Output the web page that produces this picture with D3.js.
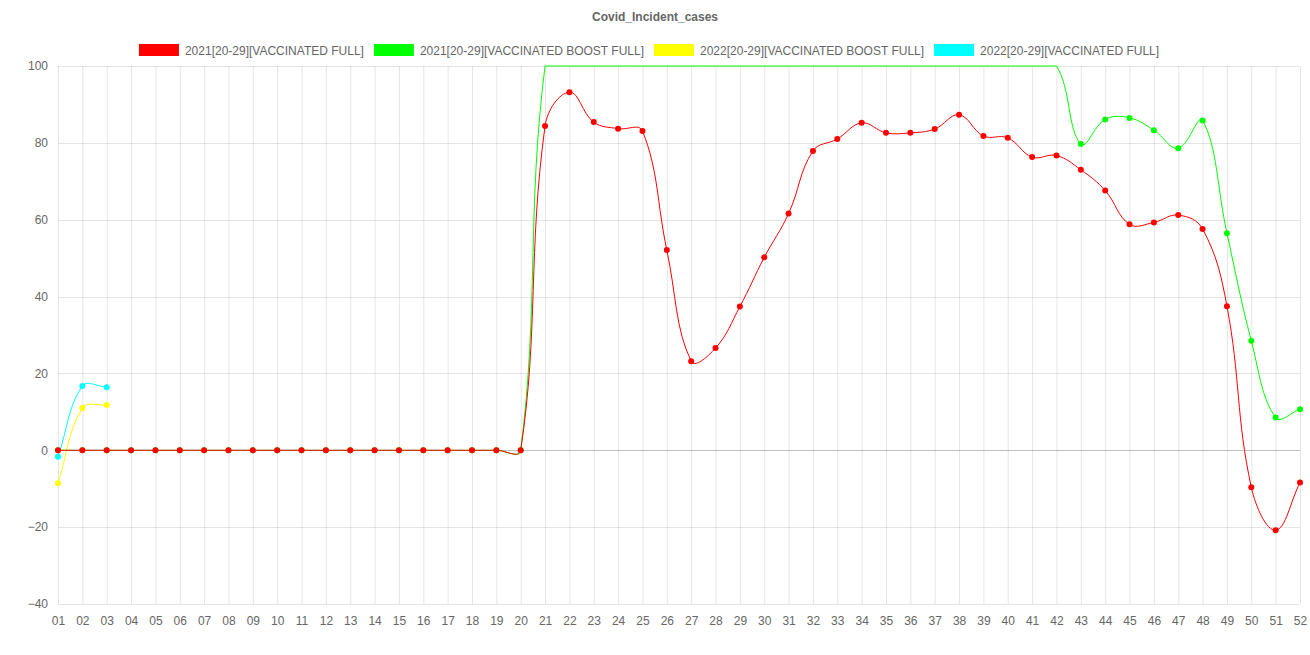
<!DOCTYPE html>
<html>
<head>
<meta charset="utf-8">
<script src="https://cdn.jsdelivr.net/npm/d3@7"></script>
<style>
  html, body { margin: 0; padding: 0; background: #fff; }
  svg { display: block; font-family: "Liberation Sans", Arial, Helvetica, sans-serif; }
</style>
</head>
<body>
<svg id="chart" width="1310" height="655"></svg>
<script>
// ---------------- DATA ----------------
const title = "Covid_Incident_cases";
const weeks = ["01","02","03","04","05","06","07","08","09","10","11","12","13","14","15","16","17","18","19","20",
  "21","22","23","24","25","26","27","28","29","30","31","32","33","34","35","36","37","38","39","40",
  "41","42","43","44","45","46","47","48","49","50","51","52"];
const yTicks = [-40, -20, 0, 20, 40, 60, 80, 100];

const seriesNames = [
  "2021[20-29][VACCINATED FULL]",
  "2021[20-29][VACCINATED BOOST FULL]",
  "2022[20-29][VACCINATED BOOST FULL]",
  "2022[20-29][VACCINATED FULL]"
];
const seriesColors = ["#ff0000", "#00ff00", "#ffff00", "#00ffff"];

const full2021 = [0,0,0,0,0,0,0,0,0,0,0,0,0,0,0,0,0,0,0,0,
  84.4,93.2,85.4,83.7,83.1,52.1,23.2,26.6,37.4,50.2,61.6,77.9,81.0,85.2,82.6,82.6,83.6,87.3,81.8,81.3,
  76.3,76.7,73.0,67.6,58.8,59.3,61.2,57.6,37.5,-9.6,-20.8,-8.4];
// weeks 21-42 lie above the top of the axis (off-scale, clipped in the picture)
const boost2021 = [0,0,0,0,0,0,0,0,0,0,0,0,0,0,0,0,0,0,0,0,
  110,115,120,120,120,120,120,120,120,120,120,120,120,120,120,120,120,120,120,115,
  110,105,79.7,86.1,86.5,83.3,78.6,85.8,56.5,28.5,8.5,10.7];
const boost2022 = [-8.6, 11.0, 11.8];
const full2022 = [-1.7, 16.7, 16.4];

// ---------------- LAYOUT ----------------
const W = 1310, H = 655;
const plot = { left: 58, right: 1300, top: 66, bottom: 604 };
const textColor = "#666";
const font = '"Liberation Sans", Arial, Helvetica, sans-serif';

const svg = d3.select("#chart");

const x = d3.scalePoint().domain(weeks).range([plot.left, plot.right]);
const y = d3.scaleLinear().domain([-40, 100]).range([plot.bottom, plot.top]);
const yc = y.copy().clamp(true);

// ---------------- GRID ----------------
const grid = svg.append("g");
grid.selectAll("line.v").data(weeks).join("line")
  .attr("x1", d => x(d) + 0.5).attr("x2", d => x(d) + 0.5)
  .attr("y1", plot.top).attr("y2", plot.bottom)
  .attr("stroke", "rgba(0,0,0,0.1)").attr("stroke-width", 1);
grid.selectAll("line.h").data(yTicks).join("line")
  .attr("x1", plot.left).attr("x2", plot.right)
  .attr("y1", d => Math.round(y(d)) + 0.5).attr("y2", d => Math.round(y(d)) + 0.5)
  .attr("stroke", d => d === 0 ? "rgba(0,0,0,0.25)" : "rgba(0,0,0,0.1)")
  .attr("stroke-width", 1);

// ---------------- AXES ----------------
const yAxis = svg.append("g").attr("transform", `translate(${plot.left - 10},0)`)
  .call(d3.axisLeft(y).tickValues(yTicks).tickSize(0).tickPadding(0));
yAxis.select(".domain").remove();
yAxis.selectAll("text").attr("fill", textColor).style("font-size", "12px").style("font-family", font);

const xAxis = svg.append("g").attr("transform", `translate(0,${plot.bottom + 12})`)
  .call(d3.axisBottom(x).tickSize(0).tickPadding(0));
xAxis.select(".domain").remove();
xAxis.selectAll("text").attr("fill", textColor).style("font-size", "12px").style("font-family", font);

// ---------------- Chart.js style spline curve ----------------
function makeSplineCurve(area, tension) {
  function Curve(context) { this._context = context; }
  Curve.prototype = {
    areaStart() { this._line = 0; },
    areaEnd() { this._line = NaN; },
    lineStart() { this._pts = []; },
    point(px, py) { this._pts.push([+px, +py]); },
    lineEnd() {
      const p = this._pts, n = p.length, ctx = this._context;
      if (!n) return;
      const cp = p.map((cur, i) => {
        const prev = p[i - 1] || cur, next = p[i + 1] || cur;
        const d01 = Math.hypot(cur[0] - prev[0], cur[1] - prev[1]);
        const d12 = Math.hypot(next[0] - cur[0], next[1] - cur[1]);
        let s01 = d01 / (d01 + d12), s12 = d12 / (d01 + d12);
        if (isNaN(s01)) s01 = 0; if (isNaN(s12)) s12 = 0;
        const fa = tension * s01, fb = tension * s12;
        const cx = v => Math.max(area.left, Math.min(area.right, v));
        const cy = v => Math.max(area.top, Math.min(area.bottom, v));
        return {
          prev: [cx(cur[0] - fa * (next[0] - prev[0])), cy(cur[1] - fa * (next[1] - prev[1]))],
          next: [cx(cur[0] + fb * (next[0] - prev[0])), cy(cur[1] + fb * (next[1] - prev[1]))]
        };
      });
      ctx.moveTo(p[0][0], p[0][1]);
      for (let i = 1; i < n; i++) {
        ctx.bezierCurveTo(cp[i - 1].next[0], cp[i - 1].next[1], cp[i].prev[0], cp[i].prev[1], p[i][0], p[i][1]);
      }
    }
  };
  return ctx => new Curve(ctx);
}
const curve = makeSplineCurve(plot, 0.4);

svg.append("clipPath").attr("id", "plotclip").append("rect")
  .attr("x", plot.left - 4).attr("y", plot.top - 1)
  .attr("width", plot.right - plot.left + 8).attr("height", plot.bottom - plot.top + 2);

const datasets = [
  { name: seriesNames[0], color: seriesColors[0], values: full2021 },
  { name: seriesNames[1], color: seriesColors[1], values: boost2021 },
  { name: seriesNames[2], color: seriesColors[2], values: boost2022 },
  { name: seriesNames[3], color: seriesColors[3], values: full2022 }
];

const line = d3.line()
  .x(d => x(d.week))
  .y(d => yc(d.value))
  .curve(curve);

const plotG = svg.append("g").attr("clip-path", "url(#plotclip)");
// draw in reverse so the first dataset ends up on top
datasets.slice().reverse().forEach(ds => {
  const pts = ds.values.map((v, i) => ({ week: weeks[i], value: v }));
  const g = plotG.append("g");
  g.append("path").datum(pts)
    .attr("d", line)
    .attr("fill", "none").attr("stroke", ds.color).attr("stroke-width", 1);
  const [lo, hi] = y.domain();
  g.selectAll("circle").data(pts.filter(d => d.value >= lo && d.value <= hi)).join("circle")
    .attr("cx", d => x(d.week)).attr("cy", d => y(d.value))
    .attr("r", 3).attr("fill", ds.color);
});

// ---------------- TITLE ----------------
svg.append("text").attr("x", W / 2).attr("y", 21)
  .attr("text-anchor", "middle").attr("fill", textColor)
  .style("font-size", "12px").style("font-weight", "bold").style("font-family", font)
  .text(title);

// ---------------- LEGEND ----------------
const boxW = 40, boxH = 12, fs = 12, pad = 10;
const legend = svg.append("g");
const items = legend.selectAll("g").data(datasets).join("g");
items.append("rect").attr("width", boxW).attr("height", boxH).attr("y", 44).attr("fill", d => d.color);
items.append("text").attr("x", boxW + fs / 2).attr("y", 50.5).attr("dy", "0.35em")
  .attr("fill", textColor).style("font-size", "12px").style("font-family", font)
  .text(d => d.name);
const widths = [];
items.each(function() { widths.push(boxW + fs / 2 + d3.select(this).select("text").node().getComputedTextLength()); });
const total = d3.sum(widths) + pad * (widths.length - 1);
let cursor = (W - total) / 2 - 6;
items.attr("transform", (d, i) => { const t = `translate(${cursor},0)`; cursor += widths[i] + pad; return t; });
</script>
</body>
</html>
